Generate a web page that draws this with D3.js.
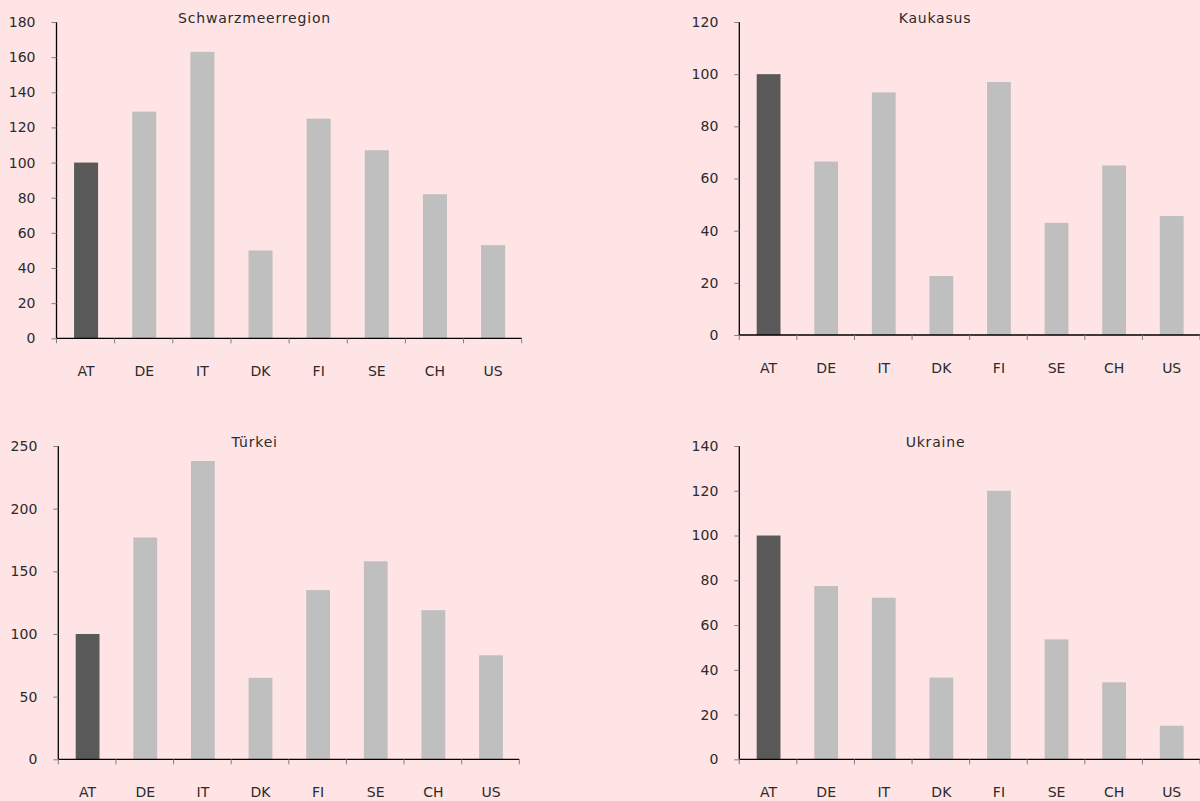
<!DOCTYPE html>
<html>
<head>
<meta charset="utf-8">
<script src="https://cdn.jsdelivr.net/npm/d3@7"></script>
<style>
  html, body { margin: 0; padding: 0; background: #FFE4E6; }
  svg { display: block; }
  text { font-family: "DejaVu Sans", sans-serif; fill: #2b2b2b; }
</style>
</head>
<body>
<svg id="chart" width="1200" height="801"></svg>
<script>
const categories = ["AT", "DE", "IT", "DK", "FI", "SE", "CH", "US"];

const titles = ["Schwarzmeerregion", "Kaukasus", "Türkei", "Ukraine"];

const schwarzmeerValues = [100, 129, 163, 50, 125, 107, 82, 53];
const kaukasusValues    = [100, 66.5, 93, 22.6, 97, 43, 65, 45.6];
const tuerkeiValues     = [100, 177, 238, 65, 135, 158, 119, 83];
const ukraineValues     = [100, 77.4, 72.2, 36.5, 120, 53.6, 34.4, 15];

const yMaxes = [180, 120, 250, 140];
const yTickSteps = [20, 20, 50, 20];

const seriesValues = [schwarzmeerValues, kaukasusValues, tuerkeiValues, ukraineValues];

// layout for each panel (pixels)
const panels = [
  { x0: 56.5, x1: 521.7, yTop: 22, yBot: 338.3, titleX: 254.5, titleY: 18, labelY: 371 },
  { x0: 739.3, x1: 1200, yTop: 22, yBot: 335, titleX: 935, titleY: 18, labelY: 368.5 },
  { x0: 58.3, x1: 519.3, yTop: 446, yBot: 759.3, titleX: 254.7, titleY: 442.5, labelY: 792 },
  { x0: 739.3, x1: 1200, yTop: 446, yBot: 759.3, titleX: 935.5, titleY: 442.5, labelY: 792 }
];

const svg = d3.select("#chart");

panels.forEach((p, i) => {
  const g = svg.append("g");
  const vals = seriesValues[i];

  const x = d3.scaleBand().domain(categories).range([p.x0, p.x1])
    .paddingInner(0.587).paddingOuter(0.2935);
  const y = d3.scaleLinear().domain([0, yMaxes[i]]).range([p.yBot, p.yTop]);

  // bars
  g.selectAll("rect.bar").data(categories).enter().append("rect")
    .attr("class", "bar")
    .attr("x", d => x(d) + 0.5)
    .attr("width", x.bandwidth())
    .attr("y", (d, j) => y(vals[j]))
    .attr("height", (d, j) => y(0) - y(vals[j]))
    .attr("fill", (d, j) => j === 0 ? "#595959" : "#BFBFBF");

  // y axis
  const yTicks = d3.range(0, yMaxes[i] + 0.001, yTickSteps[i]);
  const yAxis = d3.axisLeft(y).tickValues(yTicks).tickSize(5).tickPadding(16).tickFormat(d3.format("d"));
  const ya = g.append("g").attr("transform", `translate(${p.x0},0)`).call(yAxis);
  ya.select(".domain").attr("stroke", "#000").attr("stroke-width", 1.3).attr("d", `M0,${p.yTop}V${p.yBot}`);
  ya.selectAll(".tick line").attr("stroke", "#7f7f7f");
  ya.selectAll(".tick text").attr("font-size", 14).attr("font-family", "DejaVu Sans").attr("fill", "#2b2b2b");

  // x axis
  const xa = g.append("g").attr("transform", `translate(0,${p.yBot})`);
  xa.append("line").attr("x1", p.x0).attr("x2", p.x1).attr("y1", 0).attr("y2", 0)
    .attr("stroke", "#000").attr("stroke-width", 1.3);
  const bounds = d3.range(categories.length + 1).map(k => p.x0 + k * x.step());
  xa.selectAll("line.tk").data(bounds).enter().append("line").attr("class", "tk")
    .attr("x1", d => d).attr("x2", d => d).attr("y1", 0).attr("y2", 5)
    .attr("stroke", "#7f7f7f");
  g.selectAll("text.xl").data(categories).enter().append("text").attr("class", "xl")
    .attr("x", d => x(d) + x.bandwidth() / 2 + 0.5)
    .attr("y", p.labelY)
    .attr("dy", "0.35em")
    .attr("text-anchor", "middle")
    .attr("font-size", 14)
    .text(d => d);

  // title
  g.append("text").attr("x", p.titleX).attr("y", p.titleY).attr("dy", "0.35em")
    .attr("text-anchor", "middle").attr("font-size", 14)
    .attr("letter-spacing", "0.8px").text(titles[i]);
});
</script>
</body>
</html>
